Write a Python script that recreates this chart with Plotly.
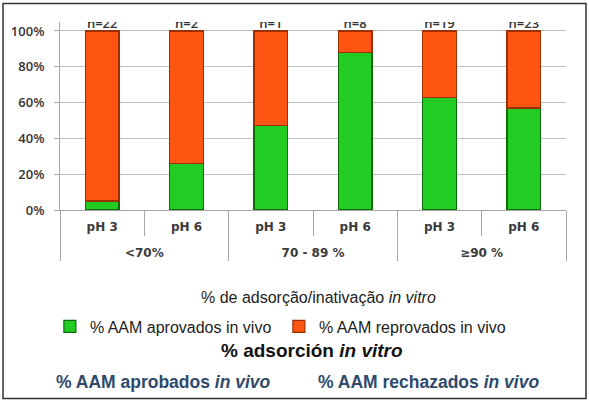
import plotly.graph_objects as go

groups = ["<70%", "<70%", "70 - 89 %", "70 - 89 %", "≥90 %", "≥90 %"]
ph = ["pH 3", "pH 6", "pH 3", "pH 6", "pH 3", "pH 6"]
aprovados = [5, 26, 47, 88, 63, 57]
reprovados = [95, 74, 53, 12, 37, 43]
n_labels = ["n=22", "n=2", "n=1", "n=8", "n=19", "n=23"]
y_ticks = [0, 20, 40, 60, 80, 100]
y_ticktext = ["0%", "20%", "40%", "60%", "80%", "100%"]

# blank first line pushes the group labels down a row, as in the original
x = [["<br>" + g for g in groups], ph]

fig = go.Figure()
fig.add_trace(go.Bar(
    x=x, y=aprovados,
    name="% AAM aprovados in vivo",
    marker=dict(color="#22cc22", line=dict(color="#0b6e0b", width=1.2))
))
fig.add_trace(go.Bar(
    x=x, y=reprovados,
    name="% AAM reprovados in vivo",
    marker=dict(color="#ff5512", line=dict(color="#9c3000", width=1.2))
))
# n labels, half cut by the top of the plot area like in the original
fig.add_trace(go.Scatter(
    x=x, y=[100] * len(n_labels),
    text=n_labels, mode="text", textposition="top center",
    textfont=dict(family="Open Sans", size=13, color="#333333", weight=600),
    cliponaxis=True, showlegend=False, hoverinfo="skip"
))

fig.update_layout(
    width=589, height=402,
    margin=dict(l=60, r=23, t=22, b=192, autoexpand=False),
    barmode="stack", bargap=0.6,
    plot_bgcolor="white", paper_bgcolor="white",
    font=dict(family="Open Sans", size=12, color="#333333"),
    showlegend=True,
    legend=dict(
        orientation="h", x=-0.02, xanchor="left", y=-0.62, yanchor="middle",
        font=dict(family="Liberation Sans", size=16, color="#222222"),
        entrywidth=184, itemwidth=30, traceorder="normal"
    ),
    xaxis=dict(
        type="multicategory",
        showdividers=True, dividercolor="#a6a6a6", dividerwidth=1,
        ticks="outside", tickson="boundaries", ticklen=25, tickcolor="#a6a6a6",
        showline=True, linecolor="#a6a6a6", linewidth=1,
        tickfont=dict(family="DejaVu Sans", size=12, color="#3a3a3a", weight=600),
        ticklabelstandoff=6,
        showgrid=False, automargin=False
    ),
    yaxis=dict(
        range=[0, 105],
        tickvals=y_ticks, ticktext=y_ticktext,
        ticks="outside", ticklen=5, tickcolor="#a6a6a6",
        showline=True, linecolor="#a6a6a6", linewidth=1,
        gridcolor="#bfbfbf", gridwidth=1,
        tickfont=dict(family="Open Sans", size=13, color="#333333", weight=600),
        ticklabelstandoff=7, automargin=False,
        zeroline=False
    ),
    shapes=[dict(
        type="rect", xref="paper", yref="paper",
        x0=-0.1126, x1=1.0395, y0=-1.003, y1=1.098,
        line=dict(color="#333333", width=1.5)
    )],
    annotations=[
        dict(text="% de adsorção/inativação <i>in vitro</i>",
             xref="paper", yref="paper", x=0.51, y=-0.463,
             xanchor="center", yanchor="middle", showarrow=False,
             font=dict(family="Liberation Sans", size=16, color="#222222")),
        dict(text="<b>% adsorción <i>in vitro</i></b>",
             xref="paper", yref="paper", x=0.498, y=-0.747,
             xanchor="center", yanchor="middle", showarrow=False,
             font=dict(family="Liberation Sans", size=19, color="#111111")),
        dict(text="<b>% AAM aprobados <i>in vivo</i></b>",
             xref="paper", yref="paper", x=0.204, y=-0.917,
             xanchor="center", yanchor="middle", showarrow=False,
             font=dict(family="Liberation Sans", size=17.5, color="#2e4a6b")),
        dict(text="<b>% AAM rechazados <i>in vivo</i></b>",
             xref="paper", yref="paper", x=0.729, y=-0.917,
             xanchor="center", yanchor="middle", showarrow=False,
             font=dict(family="Liberation Sans", size=17.5, color="#2e4a6b")),
    ]
)

fig.write_html("out.html", config={"displayModeBar": False},
               post_script="document.body.style.margin='0';")
